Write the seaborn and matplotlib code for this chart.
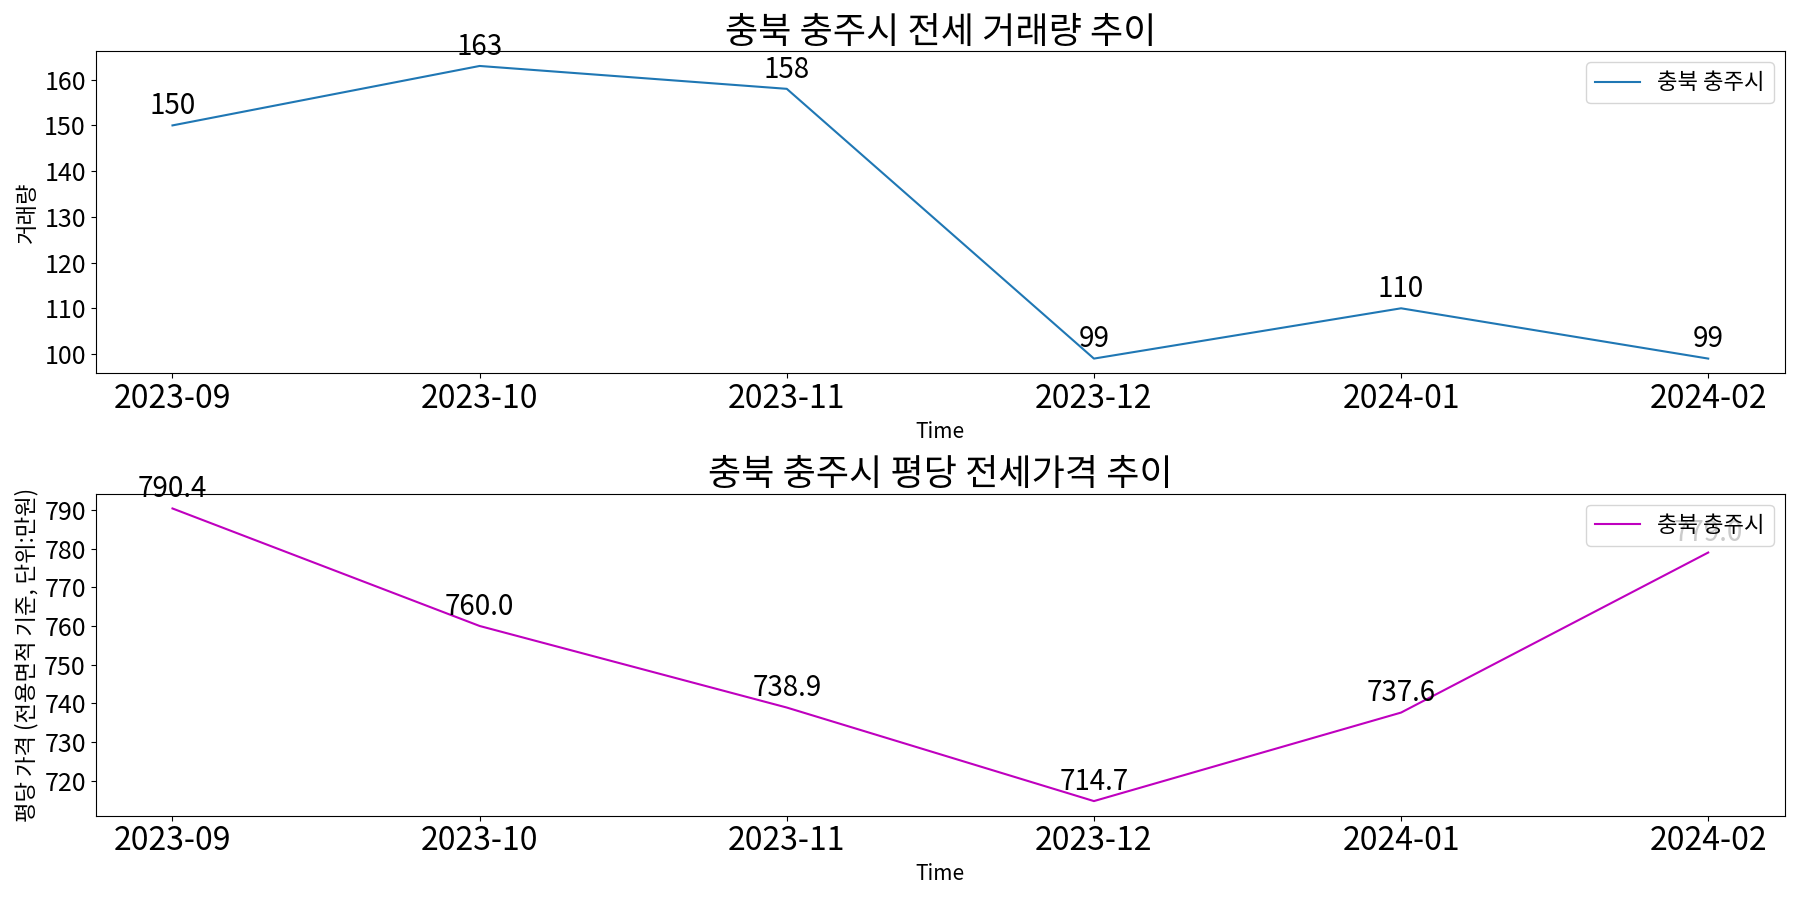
import matplotlib
matplotlib.use("Agg")
import pandas as pd
import seaborn as sns
import matplotlib.pyplot as plt
from matplotlib.ticker import MultipleLocator

plt.rcParams['font.family'] = ['Noto Sans CJK KR', 'DejaVu Sans']
plt.rcParams['axes.unicode_minus'] = False

# === data ===
region = "충북 충주시"
months = ["2023-09", "2023-10", "2023-11", "2023-12", "2024-01", "2024-02"]
volume = [150, 163, 158, 99, 110, 99]
price = [790.4, 760.0, 738.9, 714.7, 737.6, 779.0]

df = pd.DataFrame({"Time": months, "volume": volume, "price": price})

fig, axes = plt.subplots(2, 1, figsize=(18, 9), dpi=100)

# === top: 거래량 ===
ax = axes[0]
sns.lineplot(data=df, x="Time", y="volume", ax=ax, color="#1f77b4", label=region)
for i, v in enumerate(volume):
    ax.annotate(f"{v}", (i, v), textcoords="offset points", xytext=(0, 3),
                ha="center", va="bottom", fontsize=20)
ax.set_title(f"{region} 전세 거래량 추이", fontsize=26)
ax.set_xlabel("Time", fontsize=15)
ax.set_ylabel("거래량", fontsize=16)
ax.yaxis.set_major_locator(MultipleLocator(10))
ax.tick_params(axis="x", labelsize=23)
ax.tick_params(axis="y", labelsize=18)
ax.legend(loc="upper right", fontsize=16)

# === bottom: 평당 가격 ===
ax = axes[1]
sns.lineplot(data=df, x="Time", y="price", ax=ax, color="m", label=region)
for i, v in enumerate(price):
    ax.annotate(f"{v:.1f}", (i, v), textcoords="offset points", xytext=(0, 3),
                ha="center", va="bottom", fontsize=20)
ax.set_title(f"{region} 평당 전세가격 추이", fontsize=26)
ax.set_xlabel("Time", fontsize=15)
ax.set_ylabel("평당 가격 (전용면적 기준, 단위:만원)", fontsize=16)
ax.yaxis.set_major_locator(MultipleLocator(10))
ax.tick_params(axis="x", labelsize=23)
ax.tick_params(axis="y", labelsize=18)
ax.legend(loc="upper right", fontsize=16)

plt.tight_layout()
plt.savefig("out.png")
